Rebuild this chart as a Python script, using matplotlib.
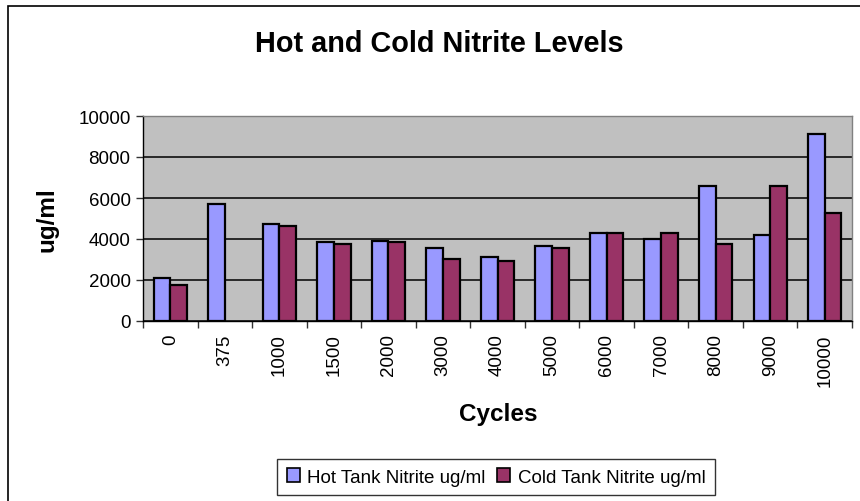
import matplotlib
matplotlib.use("Agg")
import matplotlib.pyplot as plt
import numpy as np
from matplotlib.patches import Rectangle

categories = ["0", "375", "1000", "1500", "2000", "3000", "4000", "5000",
              "6000", "7000", "8000", "9000", "10000"]
hot = [2120, 5700, 4730, 3830, 3910, 3570, 3130, 3670, 4270, 4010, 6600, 4190, 9110]
cold = [1760, 0, 4630, 3750, 3830, 3020, 2930, 3570, 4270, 4270, 3750, 6600, 5250]
yticks = [0, 2000, 4000, 6000, 8000, 10000]

plt.rcParams['font.family'] = ['Liberation Sans', 'DejaVu Sans']

fig = plt.figure(figsize=(8.6, 5.02), dpi=100)
fig.patch.set_facecolor('white')
ax = fig.add_axes([143/860, 1-322/502, (852-143)/860, (322-117)/502])
ax.set_facecolor('#C0C0C0')

x = np.arange(len(categories))
w = 0.305
b1 = ax.bar(x - w/2, hot, w, color='#9999FF', edgecolor='black', linewidth=1.6,
            label='Hot Tank Nitrite ug/ml', zorder=3)
b2 = ax.bar(x + w/2, cold, w, color='#993366', edgecolor='black', linewidth=1.6,
            label='Cold Tank Nitrite ug/ml', zorder=3)
for bars in (b1, b2):
    for p in bars:
        if p.get_height() == 0:
            p.set_linewidth(0)

ax.set_xlim(-0.5, len(categories) - 0.5)
ax.set_ylim(0, 10000)
ax.set_yticks(yticks)
ax.set_yticklabels([str(v) for v in yticks], fontsize=13.5)
ax.yaxis.grid(True, color='black', linewidth=1.1, zorder=0)
ax.set_axisbelow(True)

ax.set_xticks(np.arange(len(categories) + 1) - 0.5)
ax.set_xticklabels([])
ax.set_xticks(x, minor=True)
ax.set_xticklabels(categories, minor=True, rotation=90, fontsize=13.5)
ax.tick_params(axis='x', which='minor', length=0, pad=9)
ax.tick_params(axis='x', which='major', length=5, direction='out', width=1, color='#333333')
ax.tick_params(axis='y', length=5, direction='out', width=1, pad=4, color='#333333')

for s in ['top', 'right']:
    ax.spines[s].set_color('#808080')
    ax.spines[s].set_linewidth(1)
for s in ['left', 'bottom']:
    ax.spines[s].set_color('black')
    ax.spines[s].set_linewidth(1)

fig.text(439/860, 1-44/502, 'Hot and Cold Nitrite Levels', ha='center', va='center',
         fontsize=20.8, fontweight='bold')
fig.text(498/860, 1-415/502, 'Cycles', ha='center', va='center',
         fontsize=17.5, fontweight='bold')
fig.text(47/860, 1-220/502, 'ug/ml', ha='center', va='center', rotation=90,
         fontsize=17.5, fontweight='bold')

leg = fig.legend(loc='center', bbox_to_anchor=(496/860, 1-478/502), ncol=2,
                 fontsize=13.5, frameon=True, fancybox=False, handlelength=0.7,
                 handleheight=0.7, handletextpad=0.4, columnspacing=0.6,
                 borderpad=0.5, edgecolor='black')
leg.get_frame().set_linewidth(1)
for h in leg.legend_handles:
    h.set_linewidth(1.2)

fig.patches.append(Rectangle((8/860, -0.1), 1.0, 1 - 7/502 + 0.1, transform=fig.transFigure,
                             fill=False, edgecolor='black', linewidth=1.2))

fig.savefig('out.png', dpi=100)
